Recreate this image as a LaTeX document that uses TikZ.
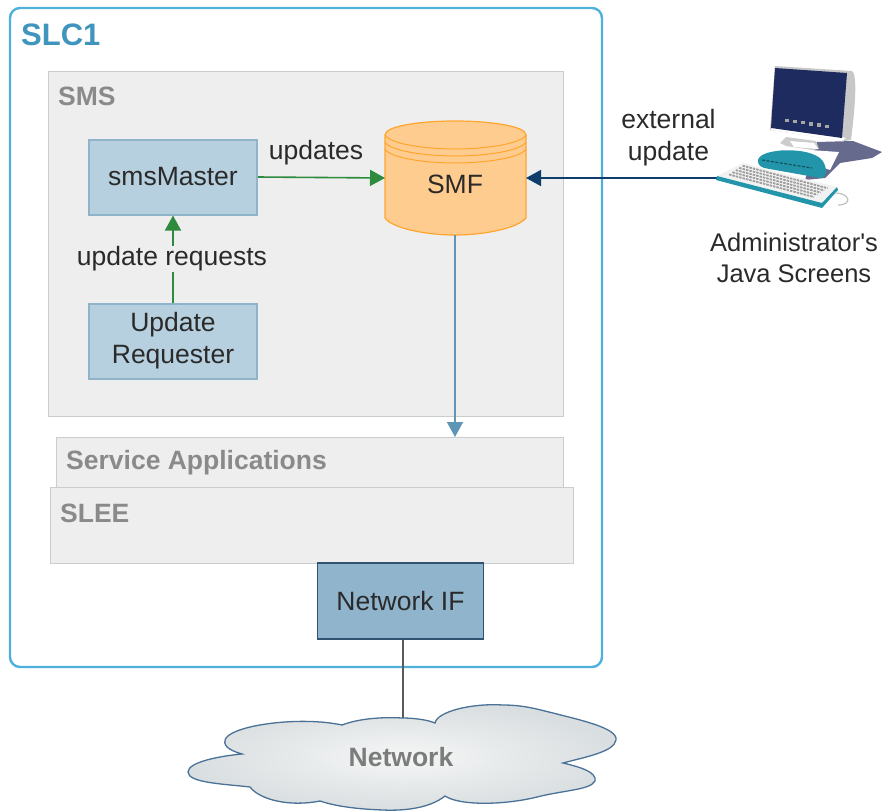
\documentclass[tikz,border=0pt]{standalone}
\usepackage{fontspec}
\setmainfont{Liberation Sans}
\newfontfamily\plainf{Liberation Sans}
\usetikzlibrary{arrows.meta}
\definecolor{slcblue}{HTML}{4FB0DC}
\definecolor{slctext}{HTML}{3F95BD}
\definecolor{panel}{HTML}{EEEEEE}
\definecolor{panelline}{HTML}{C9CDCB}
\definecolor{panelt}{HTML}{8A8A8A}
\definecolor{boxfill}{HTML}{B7D0DF}
\definecolor{boxline}{HTML}{8FB3C8}
\definecolor{netfill}{HTML}{8FB4CB}
\definecolor{netline}{HTML}{2F5370}
\definecolor{orangef}{HTML}{FFCC8F}
\definecolor{oranged}{HTML}{FFA52E}
\definecolor{greena}{HTML}{2E8B3D}
\definecolor{navya}{HTML}{0F3D6B}
\definecolor{steela}{HTML}{5F95B5}
\definecolor{txt}{HTML}{2A2A2A}
\definecolor{scr}{HTML}{1D2B5E}
\definecolor{tealk}{HTML}{2295AA}
\definecolor{shad}{HTML}{666A8C}
\definecolor{cloudl}{HTML}{4A7196}
\definecolor{cloudin}{HTML}{F5F6F6}
\definecolor{cloudout}{HTML}{D9DEE0}
\tikzset{
  panelbox/.style={draw=panelline,fill=panel,line width=0.9pt},
  panellabel/.style={text=panelt,font=\fontsize{26.5}{30}\selectfont\bfseries,anchor=west,inner sep=0pt},
  reqbox/.style={draw=boxline,fill=boxfill,line width=2pt,align=center,text=txt,font=\fontsize{26.5}{32}\selectfont,minimum width=168pt},
  lbl/.style={text=txt,font=\fontsize{26.5}{32}\selectfont,align=center,inner sep=0pt},
  arr/.style={-{Triangle[length=15pt,width=16pt]},line width=1.6pt}
}
\begin{document}
\begin{tikzpicture}[x=1pt,y=-1pt]
\useasboundingbox (0,0) rectangle (886,811);
\draw[slcblue,line width=2.4pt,rounded corners=10pt,fill=white] (10,8) rectangle (602,667);
\node[text=slctext,font=\fontsize{31}{34}\selectfont\bfseries,anchor=west,inner sep=0pt] (slc) at (21,35) {SLC1};
\node[panelbox,minimum width=515pt,minimum height=345pt,inner sep=0pt] (sms) at (306,244) {};
\node[panellabel] (smst) at (58,96) {SMS};
\node[panelbox,minimum width=507pt,minimum height=52pt,inner sep=0pt] (sa) at (310,463) {};
\node[panellabel] (sat) at (66,463) {Service Applications};
\node[panelbox,minimum width=523pt,minimum height=76pt,inner sep=0pt] (slee) at (312,525) {};
\node[panellabel] (sleet) at (60,513) {SLEE};
\node[reqbox,minimum height=75pt] (master) at (173,177) {smsMaster};
\node[reqbox,minimum height=75pt,inner sep=0pt] (req) at (173,341) {\rule{0pt}{3pt}Update\\Requester};
% SMF
\coordinate (smfw) at (385,178);
\coordinate (smfe) at (526,178);
\coordinate (smfs) at (455,235);
\path[fill=orangef,draw=oranged,line width=1.2pt] (385,135) -- (385,218) .. controls (392,228) and (425,235) .. (455,235) .. controls (485,235) and (518,228) .. (526,218) -- (526,135) .. controls (526,126) and (490,121) .. (455,121) .. controls (420,121) and (385,126) .. (385,135) -- cycle;
\draw[oranged,line width=1pt] (385,135) .. controls (390,144) and (425,149) .. (455,149) .. controls (485,149) and (521,144) .. (526,135);
\draw[oranged,line width=1pt] (385,142) .. controls (390,151) and (425,156) .. (455,156) .. controls (485,156) and (521,151) .. (526,142);
\draw[oranged,line width=1pt] (385,149) .. controls (390,158) and (425,163) .. (455,163) .. controls (485,163) and (521,158) .. (526,149);
\node[lbl] (smf) at (455,184) {SMF};
% Network IF
\node[draw=netline,fill=netfill,line width=1.2pt,minimum width=166pt,minimum height=76pt,inner sep=0pt,text=txt,font=\fontsize{26.5}{30}\selectfont] (nif) at (400.5,601) {Network IF};
% cloud
\path[draw=cloudl,line width=1.3pt,inner color=cloudin,outer color=cloudout]
 (435,723) .. controls (437,712) and (470,703) .. (503,705)
 .. controls (525,705) and (540,710) .. (553,713)
 .. controls (580,720) and (618,728) .. (616,740)
 .. controls (614,752) and (585,757) .. (563,763)
 .. controls (580,767) and (597,772) .. (595,781)
 .. controls (590,790) and (565,790) .. (537,797)
 .. controls (505,805) and (460,806) .. (445,796)
 .. controls (430,808) and (405,811) .. (383,810)
 .. controls (355,809) and (335,806) .. (320,801)
 .. controls (290,807) and (260,800) .. (250,787)
 .. controls (225,784) and (188,783) .. (188,772)
 .. controls (188,762) and (220,756) .. (242,754)
 .. controls (228,750) and (222,745) .. (226,738)
 .. controls (235,725) and (300,716) .. (342,725)
 .. controls (360,718) and (385,717) .. (402,718)
 .. controls (415,718) and (428,720) .. (435,723) -- cycle;
\coordinate (cloudtop) at (403,718);
\node[text=panelt!90!black,font=\fontsize{26.5}{30}\selectfont\bfseries,inner sep=0pt] (net) at (401,757) {Network};
% connectors
\draw[black!65,line width=2pt] (nif.south -| cloudtop) -- (cloudtop);
\draw[arr,greena] (master.east) -- (smfw);
\draw[arr,greena] (req.north) -- (master.south);
\coordinate (pc) at (717,178);
\draw[arr,navya] (pc) -- (smfe);
\coordinate (saTop) at (455,437);
\draw[arr,steela] (smfs) -- (saTop);
% labels
\node[lbl] (upd) at (316,153) {updates};
\node[lbl,fill=panel,inner sep=1pt] (ureq) at (172,259) {update requests};
\node[lbl] (ext) at (668.5,138) {external\\update};
\node[lbl,font=\fontsize{25.5}{31}\selectfont] (adm) at (794,258) {Administrator{\plainf '}s\\Java Screens};
% computer
\fill[shad] (817,142) -- (853,141) -- (882,152) -- (872,158) -- (840,163) -- (825,178) -- (805,180) -- cycle;
\fill[black!22] (775,66) -- (852,71) .. controls (857,74) and (856,100) .. (851,140) -- (844,141) -- (770,130) -- cycle;
\fill[white] (773,122) -- (771,130) -- (842,141) -- (846,138) -- cycle;
\fill[scr] (775,68) -- (847,73) -- (842,138) -- (771,128) -- cycle;
\foreach \i in {0,...,5}{
  \fill[black!35] ({785+\i*8},{118.5+\i*1.2}) rectangle +(3.5,3.5);
}
\fill[black!20] (786,137) -- (816,141) -- (819,149) -- (812,150) -- (786,146) -- (780,143) -- cycle;
\fill[white] (790,141) -- (814,143) -- (818,149) -- (794,147) -- cycle;
\fill[white] (810,150) -- (839,152) -- (830,170) -- (815,165) -- cycle;
\fill[tealk] (758,160) .. controls (760,148) and (810,146) .. (822,160) .. controls (828,168) and (827,178) .. (820,178) -- (764,168) .. controls (759,166) and (758,164) .. (758,160) -- cycle;
\draw[black!45!tealk,line width=1.2pt,dash pattern=on 3pt off 1.5pt] (762,160) -- (812,168);
\fill[black!5] (743,163) -- (837,187) -- (822,203) -- (717,176) -- cycle;
\fill[tealk] (717,176) -- (822,203) -- (837,187) -- (838,190) -- (822,208) -- (716,180) -- cycle;
\draw[black!25,line width=1.2pt] (835,193) .. controls (850,193) and (853,205) .. (838,205);
\foreach \i in {0,1,2,3,4}{
  \draw[black!38,line width=1.8pt,dash pattern=on 2.5pt off 1pt] ({729+\i*3.4},{174.5-\i*2.2}) -- ({814+\i*3.4},{197-\i*2.2});
}
\end{tikzpicture}
\end{document}
